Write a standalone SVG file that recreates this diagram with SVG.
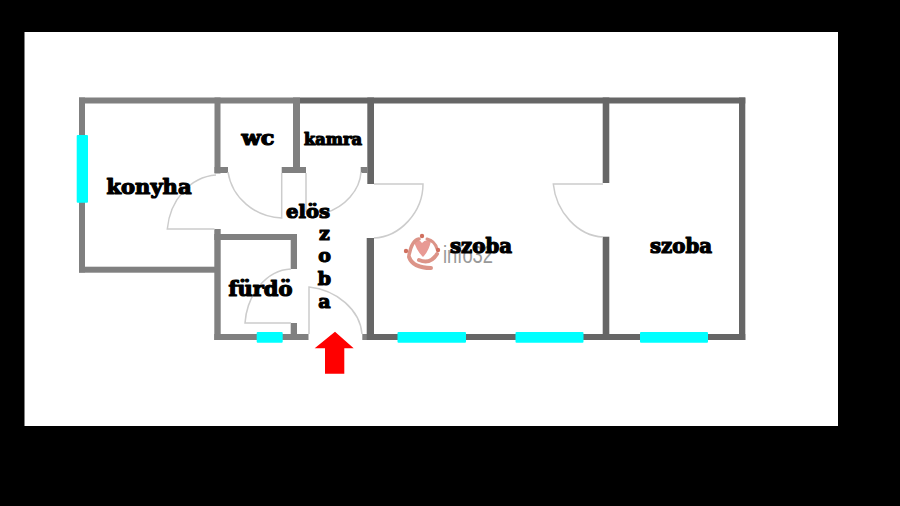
<svg xmlns="http://www.w3.org/2000/svg" width="900" height="506" viewBox="0 0 900 506">
<style>
.w1{fill:#808080}.w2{fill:#666}.win{fill:#0ff}
.door{fill:none;stroke:#ccc;stroke-width:1.5}
.t{font-family:"DejaVu Serif","Liberation Serif",serif;font-weight:700;fill:#000;stroke:#000;stroke-width:1.2;stroke-linejoin:round;text-anchor:middle}
.lg{fill:none;stroke:#dc9488;stroke-linecap:round}
</style>
<rect width="900" height="506" fill="#000"/>
<rect x="24.500" y="32" width="813.500" height="394" fill="#fff"/>
<g id="logo">
<path d="M414 241Q420 239 422 243Q425 239 431 241Q429 251 423 257Q416 250 414 241Z" fill="#e89a94"/>
<path class="lg" stroke-width="3.500" d="M409 255Q412 240 419 239"/>
<path class="lg" stroke-width="4" d="M409 257Q413 268 431 268"/>
<path class="lg" stroke-width="4" d="M419 260Q430 265 437 254"/>
<path class="lg" stroke-width="3" d="M427 239Q435 241 437 249"/>
<circle cx="406" cy="251" r="2.200" fill="#d0705f"/><circle cx="422" cy="236" r="2.200" fill="#d0705f"/><circle cx="438" cy="250" r="2.200" fill="#d0705f"/>
<text x="468" y="263" font-family="'Liberation Sans',sans-serif" font-size="23" fill="#999" text-anchor="middle" textLength="50" lengthAdjust="spacingAndGlyphs">info32</text>
</g>
<g id="walls">
<rect class="w1" x="79" y="97.500" width="221" height="6"/>
<rect class="w2" x="300" y="97.500" width="445.300" height="6"/>
<rect class="w1" x="79" y="97.500" width="6" height="175"/>
<rect class="w1" x="79" y="266.700" width="136" height="6"/>
<rect class="w1" x="214.500" y="97.500" width="6" height="76"/>
<rect class="w1" x="214.500" y="167" width="13.500" height="6"/>
<rect class="w1" x="293" y="97.500" width="7" height="70"/>
<rect class="w1" x="281.700" y="167" width="24.300" height="6"/>
<rect class="w2" x="367.300" y="97.500" width="6.700" height="86.500"/>
<rect class="w1" x="360.700" y="167" width="7" height="6"/>
<rect class="w1" x="214.300" y="229" width="6.400" height="111"/>
<rect class="w1" x="214.300" y="234" width="82.700" height="6"/>
<rect class="w1" x="290.700" y="234" width="6.300" height="35"/>
<rect class="w1" x="290.700" y="323" width="6.300" height="12"/>
<rect class="w1" x="214.300" y="334" width="94.200" height="6"/>
<rect class="w1" x="362.300" y="334" width="12" height="6"/>
<rect class="w2" x="366.700" y="238" width="7.300" height="102"/>
<rect class="w2" x="374" y="334" width="371.300" height="6"/>
<rect class="w2" x="602.700" y="97.500" width="6.600" height="85.500"/>
<rect class="w2" x="602.700" y="236.700" width="6.600" height="103.300"/>
<rect class="w2" x="739" y="97.500" width="6.300" height="242.500"/>
</g>
<g id="windows">
<rect class="win" x="76.700" y="135" width="11.300" height="67.700" rx="1"/>
<rect class="win" x="256.700" y="332" width="26" height="10.700" rx="1"/>
<rect class="win" x="397.500" y="332" width="68.500" height="10.700" rx="1"/>
<rect class="win" x="515.500" y="332" width="68" height="10.700" rx="1"/>
<rect class="win" x="640" y="332" width="68" height="10.700" rx="1"/>
</g>
<g id="doors">
<path class="door" d="M216 175C190 177 170 200 167.300 229H214.500"/>
<path class="door" d="M228 172C232 198 255 217 281.700 218V173"/>
<path class="door" d="M361 172C360 190 345 207 325 213M306 173V212"/>
<path class="door" d="M291 269C266 270 247 295 245 323H291"/>
<path class="door" d="M362 334C360 310 337 290 309 287V334"/>
<path class="door" d="M374 184H423C423 212 400 237 374 238"/>
<path class="door" d="M603 184H553.300C556 212 578 236 603 237"/>
</g>
<path id="entry-arrow" fill="#f00" d="M335 331.700L353.700 348.300H344.300V373.700H325V348.300H314.700Z"/>
<g id="labels">
<text class="t" x="149" y="194" font-size="20" textLength="85" lengthAdjust="spacingAndGlyphs">konyha</text>
<text class="t" x="258" y="145" font-size="20" textLength="33" lengthAdjust="spacingAndGlyphs">wc</text>
<text class="t" x="333" y="145" font-size="16" textLength="58" lengthAdjust="spacingAndGlyphs">kamra</text>
<text class="t" x="308" y="218" font-size="19" textLength="44" lengthAdjust="spacingAndGlyphs">elös</text>
<text class="t" x="324.500" y="240" font-size="19">z</text>
<text class="t" x="324.500" y="262" font-size="19">o</text>
<text class="t" x="324.500" y="285" font-size="19">b</text>
<text class="t" x="324.500" y="308" font-size="19">a</text>
<text class="t" x="260.500" y="296" font-size="20" textLength="64" lengthAdjust="spacingAndGlyphs">fürdö</text>
<text class="t" x="481" y="253" font-size="20" textLength="62" lengthAdjust="spacingAndGlyphs">szoba</text>
<text class="t" x="681" y="253" font-size="20" textLength="62" lengthAdjust="spacingAndGlyphs">szoba</text>
</g>
</svg>
